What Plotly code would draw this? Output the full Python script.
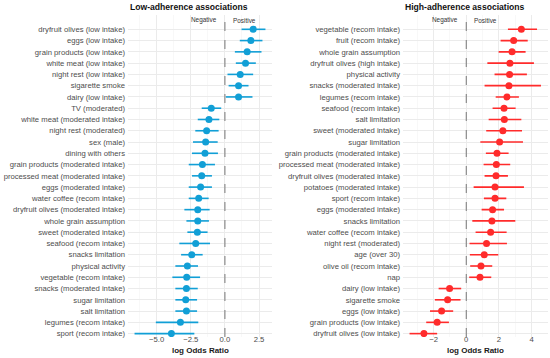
import plotly.graph_objects as go

# ---------------- data ----------------
low_labels = [
    "dryfruit olives (low intake)", "eggs (low intake)", "grain products (low intake)",
    "white meat (low intake)", "night rest (low intake)", "sigarette smoke",
    "dairy (low intake)", "TV (moderated)", "white meat (moderated intake)",
    "night rest (moderated)", "sex (male)", "dining with others",
    "grain products (moderated intake)", "processed meat (moderated intake)",
    "eggs (moderated intake)", "water coffee (recom intake)",
    "dryfruit olives (moderated intake)", "whole grain assumption",
    "sweet (moderated intake)", "seafood (recom intake)", "snacks limitation",
    "physical activity", "vegetable (recom intake)", "snacks (moderated intake)",
    "sugar limitation", "salt limitation", "legumes (recom intake)", "sport (recom intake)",
]
low_est = [2.07, 1.90, 1.63, 1.51, 1.12, 1.00, 1.00, -1.00, -1.17, -1.34, -1.41, -1.46,
           -1.65, -1.70, -1.78, -1.92, -1.99, -1.99, -2.02, -2.14, -2.43, -2.75, -2.80,
           -2.82, -2.87, -2.82, -3.26, -3.92]
low_lo = [1.22, 1.09, 0.73, 0.80, 0.19, 0.27, 0.07, -1.70, -1.99, -2.17, -2.34, -2.41,
          -2.65, -2.41, -2.65, -2.65, -2.97, -2.82, -2.75, -3.34, -3.21, -3.63, -3.85,
          -3.63, -3.63, -3.63, -5.06, -6.62]
low_hi = [2.97, 2.75, 2.68, 2.26, 2.07, 1.73, 2.02, -0.27, -0.41, -0.46, -0.53, -0.51,
          -0.73, -0.95, -0.95, -1.19, -1.12, -1.17, -1.27, -1.09, -1.63, -1.97, -1.82,
          -1.99, -2.04, -2.04, -1.95, -2.24]

high_labels = [
    "vegetable (recom intake)", "fruit (recom intake)", "whole grain assumption",
    "dryfruit olives (high intake)", "physical activity", "snacks (moderated intake)",
    "legumes (recom intake)", "seafood (recom intake)", "salt limitation",
    "sweet (moderated intake)", "sugar limitation", "grain products (moderated intake)",
    "processed meat (moderated intake)", "dryfruit olives (moderated intake)",
    "potatoes (moderated intake)", "sport (recom intake)", "eggs (moderated intake)",
    "snacks limitation", "water coffee (recom intake)", "night rest (moderated)",
    "age (over 30)", "olive oil (recom intake)", "nap", "dairy (low intake)",
    "sigarette smoke", "eggs (low intake)", "grain products (low intake)",
    "dryfruit olives (low intake)",
]
high_est = [3.37, 2.90, 2.80, 2.67, 2.65, 2.61, 2.49, 2.31, 2.33, 2.24, 2.04, 1.88, 1.84,
            1.82, 1.76, 1.76, 1.61, 1.57, 1.49, 1.24, 1.10, 0.90, 0.84, -1.02, -1.14,
            -1.51, -1.78, -2.59]
high_lo = [2.55, 2.10, 1.98, 1.29, 1.73, 1.12, 1.80, 1.61, 1.37, 1.22, 0.86, 1.20, 1.06,
           1.12, 0.45, 1.08, 0.94, 0.37, 0.57, 0.20, 0.22, 0.24, 0.18, -1.69, -1.92,
           -2.22, -2.45, -3.47]
high_hi = [4.33, 3.76, 3.63, 4.14, 3.71, 4.57, 3.22, 3.02, 3.37, 3.41, 3.47, 2.59, 2.69,
           2.55, 3.53, 2.45, 2.31, 3.00, 2.47, 2.49, 1.96, 1.59, 1.53, -0.31, -0.35,
           -0.80, -1.06, -1.78]

titles = ["Low-adherence associations", "High-adherence associations"]
x_title = "log Odds Ratio"
side_labels = ["Negative", "Positive"]
REF = 0

# ---------------- style ----------------
W, H = 550, 358
FONT = "Liberation Sans, Arial, sans-serif"
BLUE = "#119fd6"
RED = "#ff2b2b"
GRID = "#ebebeb"
MINOR = "#f4f4f4"
TXT = "#4d4d4d"

px_x = lambda p: p / W
px_y = lambda p: 1 - p / H

panels = [
    dict(labels=low_labels, est=low_est, lo=low_lo, hi=low_hi, color=BLUE,
         dom=(128, 272), rng=(-7.1, 3.45), dtick=2.5, minor=1.25, fmt=".1f"),
    dict(labels=high_labels, est=high_est, lo=high_lo, hi=high_hi, color=RED,
         dom=(403, 547.5), rng=(-3.87, 4.97), dtick=2, minor=1, fmt="d"),
]

fig = go.Figure()
top_px, bot_px = 15, 337
n = len(low_labels)

for i, p in enumerate(panels):
    xa = "x" if i == 0 else "x2"
    ya = "y" if i == 0 else "y2"
    ypos = list(range(len(p["labels"])))
    plus = [h - e for h, e in zip(p["hi"], p["est"])]
    minus = [e - l for e, l in zip(p["est"], p["lo"])]
    fig.add_trace(go.Scatter(
        x=p["est"], y=ypos, xaxis=xa, yaxis=ya, mode="markers",
        marker=dict(color=p["color"], size=7, line=dict(width=0)),
        error_x=dict(type="data", symmetric=False, array=plus, arrayminus=minus,
                     color=p["color"], thickness=1.6, width=0),
        showlegend=False, hoverinfo="skip",
    ))
    sfx = "" if i == 0 else "2"
    fig.update_layout(**{
        "xaxis" + sfx: dict(
            domain=[px_x(p["dom"][0]), px_x(p["dom"][1])], range=list(p["rng"]),
            anchor=ya, tick0=0, dtick=p["dtick"], tickformat=p["fmt"],
            showgrid=True, gridcolor=GRID, gridwidth=1, zeroline=False,
            showline=False, ticks="", tickfont=dict(family=FONT, size=7.7, color=TXT),
            minor=dict(dtick=p["minor"], tick0=0, showgrid=True, gridcolor=MINOR, gridwidth=0.6),
            ticklabelstandoff=-4,
        ),
        "yaxis" + sfx: dict(
            domain=[px_y(bot_px), px_y(top_px)], range=[n - 1 + 0.3, -1.27],
            anchor=xa, tickmode="array", tickvals=ypos, ticktext=p["labels"],
            showgrid=True, gridcolor=GRID, gridwidth=1, zeroline=False, showline=False,
            ticks="", tickfont=dict(family=FONT, size=7.7, color=TXT), ticklabelstandoff=2,
        ),
    })
    # reference line
    fig.add_shape(type="line", xref=xa, yref="paper", x0=REF, x1=REF,
                  y0=px_y(bot_px), y1=px_y(top_px),
                  line=dict(color="#777777", width=1, dash="dash"))
    # side labels
    fig.add_annotation(x=REF, y=px_y(20), xref=xa, yref="paper", text=side_labels[0],
                       showarrow=False, xanchor="right", yanchor="middle", xshift=-6,
                       font=dict(family=FONT, size=6.4, color="#333333"))
    fig.add_annotation(x=REF, y=px_y(20), xref=xa, yref="paper", text=side_labels[1],
                       showarrow=False, xanchor="left", yanchor="middle", xshift=6,
                       font=dict(family=FONT, size=6.4, color="#333333"))
    # panel title
    fig.add_annotation(x=px_x(p["dom"][0]), y=px_y(7.5), xref="paper", yref="paper",
                       text="<b>" + titles[i] + "</b>", showarrow=False,
                       xanchor="left", yanchor="middle",
                       font=dict(family=FONT, size=8.6, color="#111111"))
    # axis title
    fig.add_annotation(x=px_x((p["dom"][0] + p["dom"][1]) / 2), y=px_y(350.5),
                       xref="paper", yref="paper", text="<b>" + x_title + "</b>",
                       showarrow=False, xanchor="center", yanchor="middle",
                       font=dict(family=FONT, size=8, color="#1a1a1a"))

fig.update_layout(width=W, height=H, margin=dict(l=0, r=0, t=0, b=0),
                  plot_bgcolor="white", paper_bgcolor="white")
fig.write_html("out.html", config={"displayModeBar": False, "staticPlot": True},
               post_script="document.body.style.margin='0px';document.body.style.padding='0px';")
